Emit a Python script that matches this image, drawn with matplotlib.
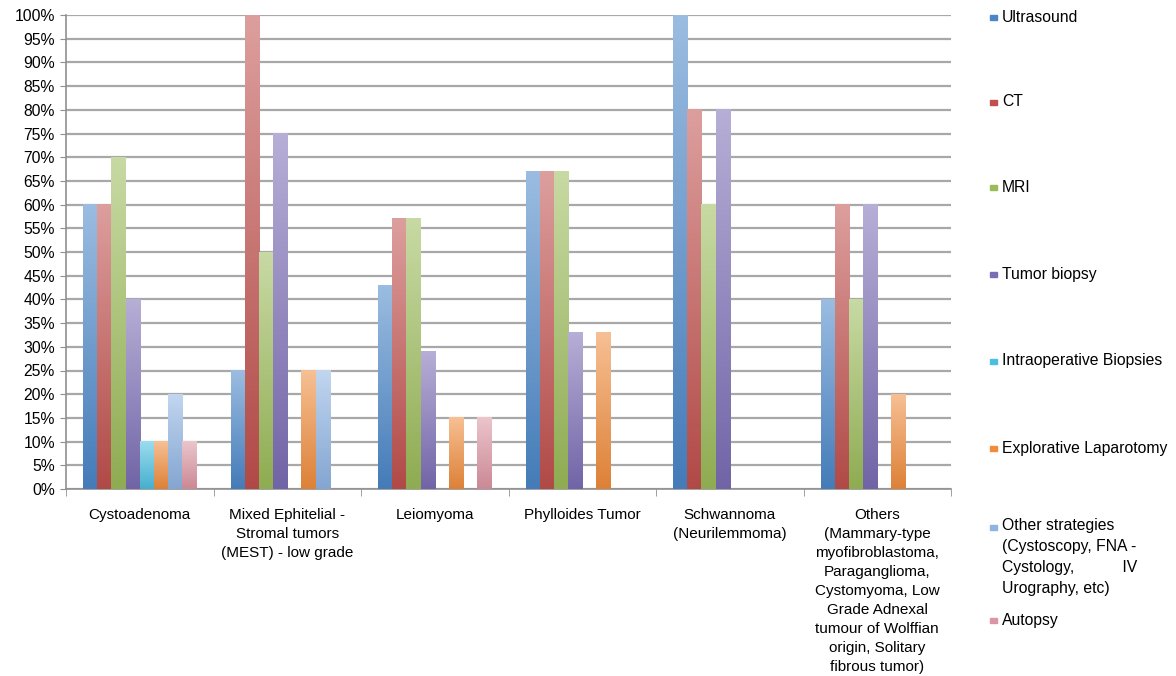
import numpy as np
import matplotlib
matplotlib.use("Agg")
import matplotlib.pyplot as plt
from matplotlib.colors import to_rgb
from matplotlib.ticker import FuncFormatter, MultipleLocator, FixedLocator

categories = [
    "Cystoadenoma",
    "Mixed Ephitelial -\nStromal tumors\n(MEST) - low grade",
    "Leiomyoma",
    "Phylloides Tumor",
    "Schwannoma\n(Neurilemmoma)",
    "Others\n(Mammary-type\nmyofibroblastoma,\nParaganglioma,\nCystomyoma, Low\nGrade Adnexal\ntumour of Wolffian\norigin, Solitary\nfibrous tumor)",
]

series = [
    "Ultrasound",
    "CT",
    "MRI",
    "Tumor biopsy",
    "Intraoperative Biopsies",
    "Explorative Laparotomy",
    "Other strategies\n(Cystoscopy, FNA -\nCystology,           IV\nUrography, etc)",
    "Autopsy",
]

# percent per category, one list per strategy
ultrasound = [60, 25, 43, 67, 100, 40]
ct = [60, 100, 57, 67, 80, 60]
mri = [70, 50, 57, 67, 60, 40]
tumor_biopsy = [40, 75, 29, 33, 80, 60]
intraop_biopsies = [10, 0, 0, 0, 0, 0]
explorative_lap = [10, 25, 15, 33, 0, 20]
other_strategies = [20, 25, 0, 0, 0, 0]
autopsy = [10, 0, 15, 0, 0, 0]

values = [ultrasound, ct, mri, tumor_biopsy, intraop_biopsies,
          explorative_lap, other_strategies, autopsy]

colors = ["#4a86c8", "#c0504d", "#9bbb59", "#7b6db5",
          "#4bbfe0", "#f08c3c", "#8fb4e3", "#dc95a2"]

plt.rcParams["font.family"] = ["Liberation Sans", "DejaVu Sans"]

fig = plt.figure(figsize=(11.76, 6.76), dpi=100)
ax = fig.add_axes([66 / 1176, 187 / 676, 885 / 1176, 474 / 676])

x = np.arange(len(categories))
w = 0.096


def gradient_bar(rect, color):
    # vertical fade: pale at the top, full colour at the base
    h = rect.get_height()
    if h <= 0:
        return
    base = np.array(to_rgb(color))
    top = base + (1 - base) * 0.45
    bottom = base * 0.92
    t = np.linspace(0, 1, 128)[:, None, None]
    img = top * (1 - t) + bottom * t
    x0 = rect.get_x()
    ax.imshow(img, extent=[x0, x0 + rect.get_width(), 0, h],
              aspect="auto", origin="upper", zorder=3, interpolation="bilinear")


for i, (vals, col) in enumerate(zip(values, colors)):
    bars = ax.bar(x + (i - 3.5) * w, vals, w, color=col, zorder=2, linewidth=0)
    for b in bars:
        gradient_bar(b, col)

ax.set_xlim(-0.5, len(categories) - 0.5)
ax.set_ylim(0, 100)

ax.yaxis.set_major_locator(MultipleLocator(5))
ax.yaxis.set_major_formatter(FuncFormatter(lambda v, p: f"{int(round(v))}%"))
ax.grid(axis="y", color="#a8a8a8", linewidth=1.6, zorder=0)
ax.set_axisbelow(True)

ax.set_xticks(x)
ax.set_xticklabels(categories, family=["Liberation Sans Narrow", "Liberation Sans"],
                   fontsize=11, linespacing=1.45)
ax.xaxis.set_minor_locator(FixedLocator(np.arange(-0.5, len(categories), 1.0)))
ax.tick_params(axis="x", which="major", length=0, pad=14)
ax.tick_params(axis="x", which="minor", length=5, color="#909090", direction="out")
ax.tick_params(axis="y", length=4, color="#909090", labelsize=11.3, pad=4)

for side in ["top", "right"]:
    ax.spines[side].set_visible(False)
for side in ["left", "bottom"]:
    ax.spines[side].set_color("#909090")
    ax.spines[side].set_linewidth(1.2)

# legend down the right side
legend_y = [17, 102, 187, 274, 361, 448, 527, 620]
for lab, col, yy in zip(series, colors, legend_y):
    fy = 1 - yy / 676
    fig.patches.append(plt.Rectangle((990 / 1176, fy - 0.004), 7 / 1176, 5 / 676,
                                     transform=fig.transFigure, color=col))
    multi = "\n" in lab
    fig.text(1002 / 1176, fy + 0.013 if multi else fy, lab, fontsize=11.3,
             va="top" if multi else "center", ha="left", linespacing=1.5)

fig.savefig("out.png", dpi=100)
